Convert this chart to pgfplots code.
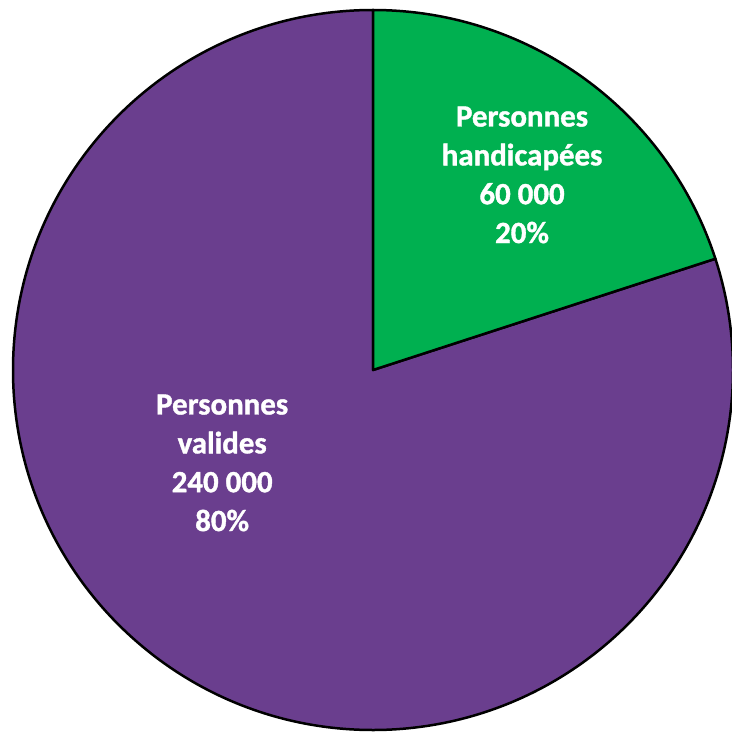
\documentclass[border=0pt]{standalone}
\usepackage{pgfplots}
\usepackage{pgfplotstable}
\pgfplotsset{compat=1.18}
\usepackage{fontspec}
\setmainfont{Carlito}
\newfontfamily\labfont{Carlito-Bold.ttf}[FakeBold=1.2]
\definecolor{vert}{HTML}{00B050}
\definecolor{pourpre}{HTML}{6A3E8E}

\pgfplotstableread{
groupe valeur
handicapees 60000
valides 240000
}\pietable

\begin{document}
\begin{tikzpicture}
\pgfplotstablegetelem{0}{valeur}\of\pietable \edef\va{\pgfplotsretval}
\pgfplotstablegetelem{1}{valeur}\of\pietable \edef\vb{\pgfplotsretval}
% angle of the first slice, clockwise from 12 o'clock
\edef\endang{\fpeval{90-360*\va/(\va+\vb)}}
\edef\endangb{\fpeval{\endang+360}}
\begin{axis}[
    name=ax,
    hide axis,
    scale only axis,
    width=732bp, height=733bp,
    xmin=-1.0361, xmax=0.9972,
    ymin=-1.0083, ymax=1.0278,
    clip=true,
  ]
\fill[pourpre, draw=black, line width=2.5bp, line join=round]
  (axis cs:0,0) -- (axis cs:0,1) arc[start angle=90, end angle=\endangb, radius=360bp] -- cycle;
\fill[vert, draw=black, line width=2.5bp, line join=round]
  (axis cs:0,0) -- (axis cs:0,1) arc[start angle=90, end angle=\endang, radius=360bp] -- cycle;
\node[text=white, font=\labfont\fontsize{31}{39}\selectfont, align=center]
  at (axis cs:0.414,0.542) {Personnes\\handicapées\\60~000\\20\%};
\node[text=white, font=\labfont\fontsize{31}{39}\selectfont, align=center]
  at (axis cs:-0.419,-0.258) {Personnes\\valides\\240~000\\80\%};
\end{axis}
\pgfresetboundingbox
\useasboundingbox (ax.south west) rectangle (ax.north east);
\end{tikzpicture}
\end{document}
